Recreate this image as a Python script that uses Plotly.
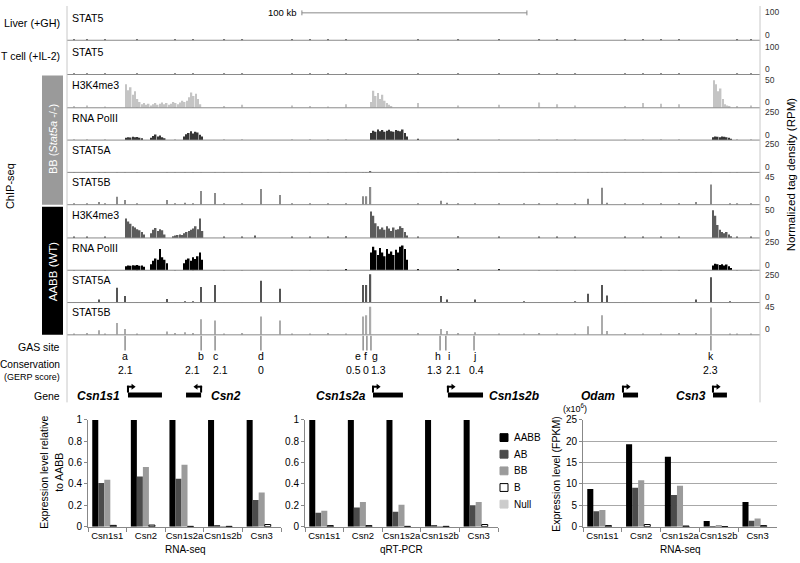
import plotly.graph_objects as go

# ======================= DATA =======================
kb_range = [0, 308]          # genomic window shown (kb)

track_names = ["STAT5", "STAT5", "H3K4me3", "RNA PolII", "STAT5A", "STAT5B",
               "H3K4me3", "RNA PolII", "STAT5A", "STAT5B"]
track_max = [100, 100, 50, 250, 250, 45, 50, 250, 250, 45]

# STAT5 peak summits (kb) shared by the STAT5A/B tracks
peak_pos = [14.2, 22.2, 25.8, 44.4, 52.4, 59.6, 65.8, 86.2, 94.7, 131.6, 133.1, 134.9,
            166.2, 168.9, 181.3, 203.1, 231.6, 237.8, 240.0, 279.6, 286.2, 294.7]
bb_stat5a_peaks = [2, 3, 2, 2, 2, 3, 3, 3, 2, 3, 3, 4, 2, 2, 2, 2, 2, 3, 2, 2, 3, 2]
bb_stat5b_peaks = [4, 12, 7, 7, 3, 21, 18, 24, 15, 13, 13, 27, 6, 3, 2, 1, 9, 26, 3, 4, 31, 2]
aabb_stat5a_peaks = [25, 125, 55, 30, 10, 133, 150, 185, 117, 150, 150, 240, 55, 25, 25, 10, 75, 150, 60, 25, 215, 10]
aabb_stat5b_peaks = [7, 18, 9, 5, 4, 24, 22, 28, 22, 28, 30, 43, 9, 6, 4, 2, 13, 30, 6, 3, 42, 2]

# low background signal (kb positions, heights per track)
noise_pos = [3, 9, 17, 31, 48, 56, 70, 78, 100, 108, 116, 124, 156, 174, 192, 210,
             218, 226, 248, 256, 264, 272, 298, 304]
liver_noise = [3, 2, 4, 2, 3, 2, 4, 3, 2, 3, 4, 2, 3, 2, 3, 4, 2, 3, 2, 4, 3, 2, 3, 2]
tcell_noise = [2, 3, 2, 4, 3, 2, 3, 2, 4, 2, 3, 3, 2, 4, 3, 2, 3, 2, 4, 3, 2, 3, 2, 3]
bb_k4_noise = [3, 4, 2, 5, 6, 4, 3, 5, 4, 3, 2, 6, 8, 4, 5, 9, 6, 4, 3, 8, 7, 6, 3, 4]
bb_pol_noise = [2, 3, 2, 3, 2, 3, 2, 2, 3, 2, 3, 2, 5, 4, 3, 2, 3, 2, 3, 2, 3, 2, 2, 3]
bb_5a_noise = [2, 2, 3, 2, 2, 3, 2, 2, 2, 3, 2, 2, 3, 2, 2, 2, 3, 2, 2, 2, 3, 2, 2, 2]
bb_5b_noise = [1, 2, 1, 2, 1, 1, 2, 1, 2, 1, 1, 2, 1, 2, 1, 1, 2, 1, 1, 2, 1, 1, 2, 1]
aabb_k4_noise = [2, 1, 2, 3, 2, 2, 1, 2, 2, 1, 2, 3, 2, 3, 2, 2, 1, 2, 2, 1, 2, 2, 1, 2]
aabb_pol_noise = [3, 2, 3, 4, 3, 2, 3, 2, 3, 2, 3, 4, 6, 8, 7, 3, 2, 3, 2, 3, 2, 3, 2, 3]
aabb_5a_noise = [3, 2, 3, 2, 3, 4, 3, 2, 3, 2, 3, 2, 3, 2, 3, 2, 3, 4, 3, 2, 3, 2, 3, 2]
aabb_5b_noise = [2, 3, 2, 2, 3, 3, 2, 3, 2, 2, 3, 2, 3, 3, 2, 3, 2, 2, 3, 2, 2, 3, 2, 2]

# broad domains: (start kb, heights in consecutive 1-kb bins)
bb_k4_domains = [
    (25.8, [40, 30, 35, 22, 28, 15, 10]),
    (32.8, [6, 8, 5, 7, 4, 6, 8, 5, 7, 9, 6, 8, 5, 7, 10, 8, 6, 9, 12, 10]),
    (52.8, [12, 18, 26, 20, 24, 15, 6]),
    (134.7, [10, 29, 20, 25, 15, 22, 12, 8, 5, 3]),
    (287.0, [47, 40, 28, 33, 15, 6, 4, 3]),
]
bb_pol_domains = [
    (25.8, [20, 25, 22, 28, 24, 26, 20, 15]),
    (36.9, [20, 35, 47, 30, 40, 25, 15]),
    (51.6, [30, 50, 60, 75, 55, 70, 65, 45, 30]),
    (134.7, [60, 80, 70, 90, 75, 85, 70, 80, 88, 75, 70, 85, 80, 75, 90, 60, 30]),
    (286.7, [25, 30, 28, 25, 30, 28, 25, 20, 10]),
]
aabb_k4_domains = [
    (25.8, [33, 28, 24, 20, 18, 15, 13, 10, 6]),
    (36.9, [8, 14, 17, 12, 15, 13, 6]),
    (46.7, [3, 4, 5, 6, 5, 8, 10, 12, 14, 16, 20, 15, 33, 12]),
    (83.0, [4]),
    (134.7, [45, 38, 25, 20, 15, 18, 14, 20, 16, 12, 18, 14, 15, 20, 17, 10, 4]),
    (286.7, [47, 38, 22, 14, 10, 8, 10, 6, 3]),
]
aabb_pol_domains = [
    (25.8, [35, 40, 38, 42, 40, 45, 38, 40, 30]),
    (36.9, [50, 80, 100, 90, 180, 110, 90, 60]),
    (51.6, [60, 90, 100, 80, 110, 95, 120, 150, 90]),
    (134.7, [150, 200, 170, 130, 190, 150, 120, 180, 140, 160, 130, 175, 150, 200, 210, 180, 90]),
    (286.7, [40, 55, 50, 45, 50, 40, 48, 35, 20]),
]

# GAS sites
gas_letters = ["a", "b", "c", "d", "e", "f", "g", "h", "i", "j", "k"]
gas_pos = [25.8, 59.6, 65.8, 86.2, 131.6, 133.3, 135.1, 165.8, 168.4, 180.9, 286.2]
gerp_scores = ["2.1", "2.1", "2.1", "0", "0.5", "0", "1.3", "1.3", "2.1", "0.4", "2.3"]

# genes
gene_names = ["Csn1s1", "Csn2", "Csn1s2a", "Csn1s2b", "Odam", "Csn3"]
gene_tss = [27.1, 59.6, 136.0, 169.3, 247.1, 287.1]
gene_end = [42.2, 52.9, 149.3, 184.9, 253.8, 293.3]
gene_strand = ["+", "-", "+", "+", "+", "+"]

# expression bar charts
expr_genes = ["Csn1s1", "Csn2", "Csn1s2a", "Csn1s2b", "Csn3"]
genotypes = ["AABB", "AB", "BB", "B", "Null"]
rnaseq_rel = {
    "AABB": [1, 1, 1, 1, 1],
    "AB": [0.41, 0.47, 0.45, 0.015, 0.25],
    "BB": [0.44, 0.56, 0.58, 0.003, 0.32],
    "B": [0.012, 0.015, 0.003, 0.003, 0.02],
    "Null": [0, 0, 0, 0, 0],
}
qpcr_rel = {
    "AABB": [1, 1, 1, 1, 1],
    "AB": [0.13, 0.18, 0.14, 0.01, 0.2],
    "BB": [0.15, 0.23, 0.205, 0.003, 0.23],
    "B": [0.01, 0.01, 0.003, 0.003, 0.02],
    "Null": [0, 0, 0, 0, 0],
}
rnaseq_fpkm = {
    "AABB": [8.8, 19.3, 16.4, 1.3, 5.8],
    "AB": [3.6, 9.1, 7.4, 0.03, 1.4],
    "BB": [3.9, 10.9, 9.6, 0.2, 1.9],
    "B": [0.25, 0.5, 0.15, 0.02, 0.25],
    "Null": [0, 0, 0, 0, 0],
}
rel_ticks = [0, 0.2, 0.4, 0.6, 0.8, 1]
rel_ticktext = ["0", "0.2", "0.4", "0.6", "0.8", "1"]
fpkm_ticks = [0, 5, 10, 15, 20, 25]

# ======================= LAYOUT HELPERS =======================
W, H = 800, 563
def fx(px):
    return px / W
def fy(py):
    return 1 - py / H

FONT = "Arial, Liberation Sans, sans-serif"
baselines = [35, 70, 104, 137, 170, 203, 237, 270, 303, 336]
track_h = 30
track_colors = ["#6e6e6e", "#6e6e6e", "#c4c4c4", "#353535", "#666666", "#8c8c8c",
                "#5c5c5c", "#000000", "#555555", "#ababab"]

track_peaks = [None, None, None, None, bb_stat5a_peaks, bb_stat5b_peaks,
               None, None, aabb_stat5a_peaks, aabb_stat5b_peaks]
track_noise = [liver_noise, tcell_noise, bb_k4_noise, bb_pol_noise, bb_5a_noise, bb_5b_noise,
               aabb_k4_noise, aabb_pol_noise, aabb_5a_noise, aabb_5b_noise]
track_domains = [[], [], bb_k4_domains, bb_pol_domains, [], [],
                 aabb_k4_domains, aabb_pol_domains, [], []]

fig = go.Figure()
shapes = []
annots = []

def ann(x, y, text, size=11, xanchor="center", xref="paper", color="black", angle=0, xshift=0, **kw):
    annots.append(dict(x=x, y=y, xref=xref, yref="paper", text=text, showarrow=False,
                       xanchor=xanchor, yanchor="middle", textangle=angle, xshift=xshift,
                       font=dict(size=size, color=color, family=FONT), **kw))

# ---------------- tracks ----------------
for i in range(10):
    xs, ys, ws = [], [], []
    for p, h in zip(noise_pos, track_noise[i]):
        xs.append(p); ys.append(h); ws.append(0.5)
    for start, hs in track_domains[i]:
        for j, h in enumerate(hs):
            xs.append(start + j + 0.5); ys.append(h); ws.append(0.7)
    if track_peaks[i] is not None:
        for p, h in zip(peak_pos, track_peaks[i]):
            xs.append(p); ys.append(h); ws.append(0.6)
    yname = "y" if i == 0 else f"y{i+1}"
    fig.add_trace(go.Bar(x=xs, y=ys, width=ws, offset=[-w / 2 for w in ws],
                         xaxis="x", yaxis=yname, marker=dict(color=track_colors[i], line=dict(width=0)),
                         hoverinfo="skip"))
    b = baselines[i]
    fig.layout[("yaxis" if i == 0 else f"yaxis{i+1}")] = dict(
        domain=[fy(b), fy(b - track_h)], range=[0, track_max[i]], visible=False,
        anchor="x", fixedrange=True)
    shapes.append(dict(type="line", xref="x", yref="paper", x0=kb_range[0], x1=kb_range[1],
                       y0=fy(b), y1=fy(b), line=dict(color="#8a8a8a", width=1)))
    ann(fx(70), fy(b - 23), track_names[i], size=10.6, xanchor="left")
    ann(fx(763), fy(b - 28.5), str(track_max[i]), size=8.5, xanchor="left", color="#333")
    ann(fx(763), fy(b - 5.5), "0", size=8.5, xanchor="left", color="#333")

fig.layout["xaxis"] = dict(domain=[fx(67), fx(760)], range=kb_range, visible=False,
                           anchor="y10", fixedrange=True)

# borders
for xp in (67, 760):
    shapes.append(dict(type="line", xref="paper", yref="paper", x0=fx(xp), x1=fx(xp),
                       y0=fy(0), y1=fy(405), line=dict(color="#c8c8c8", width=1)))

# scale bar (100 kb)
sb0, sb1 = 104.4, 204.4
shapes.append(dict(type="line", xref="x", yref="paper", x0=sb0, x1=sb1, y0=fy(7), y1=fy(7),
                   line=dict(color="#888", width=1)))
for s in (sb0, sb1):
    shapes.append(dict(type="line", xref="x", yref="paper", x0=s, x1=s, y0=fy(4.5), y1=fy(9.5),
                       line=dict(color="#888", width=1)))
ann(sb0, fy(7), "100 kb", size=9.5, xanchor="right", xref="x", xshift=-3)

# sample boxes
shapes.append(dict(type="rect", xref="paper", yref="paper", x0=fx(42), x1=fx(63),
                   y0=fy(203), y1=fy(71), fillcolor="#9a9a9a", line=dict(width=0)))
shapes.append(dict(type="rect", xref="paper", yref="paper", x0=fx(42), x1=fx(63),
                   y0=fy(336), y1=fy(205), fillcolor="#000000", line=dict(width=0)))
ann(fx(53), fy(136), "BB (<i>Stat5a</i> -/-)", size=11, color="white", angle=-90)
ann(fx(53), fy(271), "AABB (WT)", size=11.5, color="white", angle=-90)
ann(fx(10), fy(184), "ChIP-seq", size=11, angle=-90)
ann(fx(62), fy(17), "Liver (+GH)", size=10.8, xanchor="right")
ann(fx(62), fy(51), "T cell (+IL-2)", size=10.5, xanchor="right")
ann(fx(791), fy(172), "Normalized tag density (RPM)", size=11.5, angle=-90)

# GAS sites, conservation
letter_shift = [0, 0, 0, 0, -5, -1, 4, -2, 3, 0, 0]
score_shift = [0, -9, 5, 0, -10, -1, 8, -6, 8, 2, 0]
for k in range(len(gas_pos)):
    shapes.append(dict(type="line", xref="x", yref="paper", x0=gas_pos[k], x1=gas_pos[k],
                       y0=fy(337), y1=fy(352), line=dict(color="#555", width=1)))
    ann(gas_pos[k], fy(358), gas_letters[k], size=10.5, xref="x", xshift=letter_shift[k])
    ann(gas_pos[k], fy(372), gerp_scores[k], size=10.5, xref="x", xshift=score_shift[k])
ann(fx(62), fy(348), "GAS site", size=10.5, xanchor="right")
ann(fx(62), fy(366), "Conservation", size=10.2, xanchor="right")
ann(fx(62), fy(379), "(GERP score)", size=9, xanchor="right")
ann(fx(62), fy(398), "Gene", size=10.5, xanchor="right")

# gene models
label_left = [True, False, True, False, True, True]
label_shift = [-6, 8, -5, 4, -6, -5]
for g in range(len(gene_names)):
    tss, end, st = gene_tss[g], gene_end[g], gene_strand[g]
    d = 1 if st == "+" else -1
    lo, hi = min(tss, end), max(tss, end)
    shapes.append(dict(type="rect", xref="x", yref="paper", x0=lo, x1=hi, y0=fy(400), y1=fy(395),
                       fillcolor="black", line=dict(width=0)))
    shapes.append(dict(type="rect", xref="x", yref="paper", x0=tss - 0.45 * d, x1=tss + 0.45 * d,
                       y0=fy(395), y1=fy(388), fillcolor="black", line=dict(width=0)))
    shapes.append(dict(type="rect", xref="x", yref="paper", x0=tss - 0.45 * d, x1=tss + 1.8 * d,
                       y0=fy(390), y1=fy(388), fillcolor="black", line=dict(width=0)))
    ax0 = tss + 1.6 * d
    ax1 = tss + 3.4 * d
    path = f"M {ax0},{fy(386)} L {ax1},{fy(389)} L {ax0},{fy(392)} Z"
    shapes.append(dict(type="path", xref="x", yref="paper", path=path,
                       fillcolor="black", line=dict(width=0)))
    if label_left[g]:
        ann(lo, fy(398), f"<b><i>{gene_names[g]}</i></b>", size=12, xanchor="right",
            xref="x", xshift=label_shift[g])
    else:
        ann(hi, fy(398), f"<b><i>{gene_names[g]}</i></b>", size=12, xanchor="left",
            xref="x", xshift=label_shift[g])

# ---------------- bar charts ----------------
geno_colors = {"AABB": "#000000", "AB": "#4b4b4b", "BB": "#9b9b9b", "B": "#ffffff", "Null": "#cccccc"}
charts = [(rnaseq_rel, "x2", "y11", 88, 281), (qpcr_rel, "x3", "y12", 305, 498),
          (rnaseq_fpkm, "x4", "y13", 583, 777)]
for ci, (data, xa, ya, xl, xr) in enumerate(charts):
    for gt in genotypes:
        fig.add_trace(go.Bar(x=expr_genes, y=data[gt], xaxis=xa, yaxis=ya, name=gt,
                             marker=dict(color=geno_colors[gt],
                                         line=dict(color="black", width=1 if gt == "B" else 0)),
                             hoverinfo="skip"))
    xkey = "xaxis" + xa[1:]
    ykey = "yaxis" + ya[1:]
    fig.layout[xkey] = dict(domain=[fx(xl), fx(xr)], anchor=ya, type="category",
                            tickson="boundaries", ticks="outside", ticklen=4, tickcolor="#888",
                            showline=True, linecolor="#888", linewidth=1, tickangle=0,
                            tickfont=dict(size=9.5, family=FONT), fixedrange=True)
    if ci < 2:
        fig.layout[ykey] = dict(domain=[fy(532), fy(423)], anchor=xa, range=[0, 1],
                                tickvals=rel_ticks, ticktext=rel_ticktext, showline=True,
                                linecolor="#888", ticks="outside", ticklen=3, tickcolor="#888",
                                showgrid=False, zeroline=False,
                                tickfont=dict(size=10, family=FONT), fixedrange=True)
    else:
        fig.layout[ykey] = dict(domain=[fy(532), fy(423)], anchor=xa, range=[0, 25],
                                tickvals=fpkm_ticks, showline=True, linecolor="#888",
                                ticks="outside", ticklen=3, tickcolor="#888",
                                showgrid=True, gridcolor="#a8a8a8", zeroline=False,
                                tickfont=dict(size=10, family=FONT), fixedrange=True)

ann(fx(185), fy(555), "RNA-seq", size=10)
ann(fx(401), fy(555), "qRT-PCR", size=10)
ann(fx(680), fy(555), "RNA-seq", size=10)
ann(fx(44), fy(477), "Expression level relative", size=10.5, angle=-90)
ann(fx(59), fy(477), "to AABB", size=10.5, angle=-90)
ann(fx(556), fy(478), "Expression level (FPKM)", size=10.5, angle=-90)
ann(fx(575), fy(411), "(x10<sup>6</sup>)", size=9)

# legend
leg_y = [441, 458, 475, 492, 509]
for gt, yy in zip(genotypes, leg_y):
    shapes.append(dict(type="rect", xref="paper", yref="paper", x0=fx(500), x1=fx(508),
                       y0=fy(yy + 4), y1=fy(yy - 4), fillcolor=geno_colors[gt],
                       line=dict(color="black" if gt == "B" else geno_colors[gt], width=1)))
    ann(fx(512), fy(yy), gt, size=10, xanchor="left")

fig.update_layout(width=W, height=H, margin=dict(l=0, r=0, t=0, b=0),
                  paper_bgcolor="white", plot_bgcolor="rgba(0,0,0,0)",
                  barmode="group", bargap=0.22, bargroupgap=0, showlegend=False,
                  font=dict(family=FONT, size=11, color="black"),
                  shapes=shapes, annotations=annots)
fig.write_html("out.html", config={"displayModeBar": False},
               post_script="document.body.style.margin='0';document.body.style.overflow='hidden';")
